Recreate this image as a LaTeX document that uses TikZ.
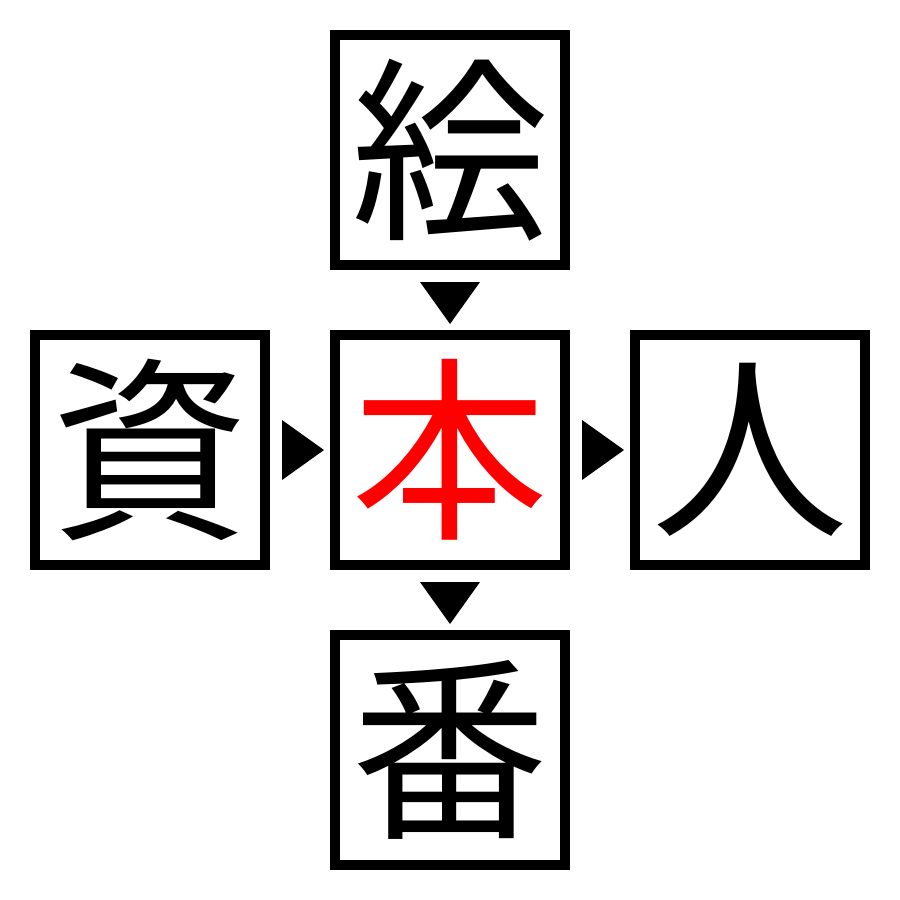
\documentclass[tikz,border=0pt]{standalone}
\usepackage{fontspec}
\newfontfamily\cjk{Noto Sans CJK JP}
\begin{document}
\begin{tikzpicture}[x=0.01cm,y=-0.01cm,
  kbox/.style={draw=black,line width=0.1cm,minimum size=2.3cm,inner sep=0pt,fill=white,font=\cjk\fontsize{56}{56}\selectfont},
  tri/.style={fill=black,draw=none}]
\useasboundingbox (0,0) rectangle (900,900);
\node[kbox] (top) at (450,150) {絵};
\node[kbox] (left) at (150,450) {資};
\node[kbox,text=red] (mid) at (450,450) {本};
\node[kbox] (right) at (750,450) {人};
\node[kbox] (bot) at (450,750) {番};
\path (top.south) -- (mid.north) coordinate[midway,yshift=-0.03cm] (tm);
\path (left.east) -- (mid.west) coordinate[midway,xshift=0.03cm] (lm);
\path (mid.east) -- (right.west) coordinate[midway,xshift=0.03cm] (mr);
\path (mid.south) -- (bot.north) coordinate[midway,yshift=-0.03cm] (mb);
\fill[tri] ([shift={(-30,-21)}]tm) -- ([shift={(30,-21)}]tm) -- ([shift={(0,21)}]tm) -- cycle;
\fill[tri] ([shift={(-30,-21)}]mb) -- ([shift={(30,-21)}]mb) -- ([shift={(0,21)}]mb) -- cycle;
\fill[tri] ([shift={(-21,-30)}]lm) -- ([shift={(-21,30)}]lm) -- ([shift={(21,0)}]lm) -- cycle;
\fill[tri] ([shift={(-21,-30)}]mr) -- ([shift={(-21,30)}]mr) -- ([shift={(21,0)}]mr) -- cycle;
\end{tikzpicture}
\end{document}
